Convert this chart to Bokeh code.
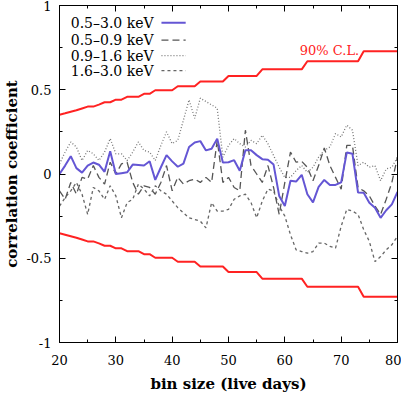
from bokeh.plotting import figure
from bokeh.models import Range1d, FixedTicker, LinearAxis
from bokeh.core.properties import value
from bokeh.embed import file_html
from bokeh.resources import INLINE

# ---------------- data ----------------
bin_size = list(range(20, 81))

corr_05_30 = [0.00, 0.05, 0.106, 0.035, 0.008, 0.05, 0.068, 0.055, 0.013, 0.135,
              0.0, 0.005, 0.01, 0.056, 0.053, 0.05, 0.076, -0.035, 0.04, 0.112,
              0.075, 0.043, 0.062, 0.16, 0.187, 0.195, 0.14, 0.15, 0.21, 0.068,
              0.07, 0.082, 0.019, 0.141, 0.141, 0.112, 0.088, 0.085, 0.056, -0.13,
              -0.19, -0.04, -0.045, -0.005, -0.12, -0.168, -0.076, -0.035, -0.065, -0.065,
              -0.05, 0.128, 0.12, -0.11, -0.112, -0.17, -0.2, -0.26, -0.215, -0.18, -0.106]

corr_05_09 = [-0.1, -0.15, -0.05, -0.12, -0.02, -0.03, 0.05, -0.02, -0.06, 0.07,
              0.0, 0.06, 0.07, -0.05, -0.12, -0.07, -0.08, -0.12, -0.05, 0.05,
              -0.1, -0.02, -0.06, -0.04, -0.03, -0.05, -0.02, -0.05, 0.2, -0.05,
              -0.02, -0.08, -0.1, 0.26, 0.05, 0.0, -0.05, 0.05, -0.08, -0.24,
              -0.05, 0.13, 0.07, 0.075, 0.04, -0.04, 0.05, 0.155, 0.05, -0.02,
              -0.09, 0.17, 0.17, -0.08, -0.1, -0.13, -0.19, -0.24, -0.15, -0.05, 0.1]

corr_09_16 = [0.06, 0.13, 0.19, 0.16, 0.08, 0.14, 0.12, 0.08, 0.13, 0.21,
              0.12, 0.12, 0.08, 0.13, 0.19, 0.14, 0.13, 0.08, 0.17, 0.25,
              0.18, 0.2, 0.32, 0.44, 0.33, 0.45, 0.43, 0.41, 0.39, 0.1,
              0.17, 0.21, 0.18, 0.16, 0.2, 0.18, 0.23, 0.18, 0.11, 0.04,
              -0.02, -0.02, 0.02, 0.05, 0.01, 0.04, 0.1, 0.14, 0.16, 0.24,
              0.22, 0.29, 0.26, 0.05, 0.07, 0.04, 0.05, -0.04, 0.03, 0.04, 0.1]

corr_16_30 = [-0.19, -0.14, -0.1, -0.05, -0.12, -0.24, -0.08, -0.1, -0.15, -0.07,
              -0.13, -0.26, -0.17, -0.15, -0.06, -0.09, -0.13, -0.07, -0.1, -0.12,
              -0.16, -0.2, -0.23, -0.26, -0.27, -0.28, -0.32, -0.17, -0.22, -0.22,
              -0.21, -0.15, -0.13, -0.12, -0.17, -0.26, -0.16, -0.09, -0.1, -0.19,
              -0.25, -0.36, -0.45, -0.46, -0.47, -0.46, -0.41, -0.41, -0.43, -0.44,
              -0.31, -0.21, -0.22, -0.24, -0.33, -0.4, -0.52, -0.49, -0.45, -0.42, -0.37]

cl90_upper = [0.352, 0.360, 0.369, 0.378, 0.389, 0.400, 0.400, 0.412, 0.426, 0.426,
              0.441, 0.441, 0.458, 0.458, 0.458, 0.476, 0.476, 0.497, 0.497, 0.497,
              0.497, 0.521, 0.521, 0.521, 0.521,
              0.549, 0.549, 0.549, 0.549, 0.549,
              0.582, 0.582, 0.582, 0.582, 0.582, 0.582,
              0.621, 0.621, 0.621, 0.621, 0.621, 0.621, 0.621, 0.621,
              0.669, 0.669, 0.669, 0.669, 0.669, 0.669, 0.669, 0.669, 0.669, 0.669,
              0.729, 0.729, 0.729, 0.729, 0.729, 0.729, 0.729]
cl90_lower = [-v for v in cl90_upper]

series_labels = ["0.5\u20133.0 keV", "0.5\u20130.9 keV", "0.9\u20131.6 keV", "1.6\u20133.0 keV"]
cl_label = "90% C.L."

x_ticks = [20, 30, 40, 50, 60, 70, 80]
x_minor = [25, 35, 45, 55, 65, 75]
x_tick_labels = ["20", "30", "40", "50", "60", "70", "80"]
y_ticks = [-1, -0.5, 0, 0.5, 1]
y_minor = [-0.75, -0.25, 0.25, 0.75]
y_tick_labels = ["-1", "-0.5", "0", "0.5", "1"]

x_title = "bin size (live days)"
y_title = "correlation coefficient"

# ---------------- styles ----------------
FONT = "DejaVu Serif"
BLUE = "#6456d4"
RED = "#ff2222"
styles = [
    dict(line_color=BLUE, line_width=2.0, line_dash="solid"),
    dict(line_color="#555555", line_width=1.3, line_dash="7 4"),
    dict(line_color="#777777", line_width=1.3, line_dash="1 2"),
    dict(line_color="#666666", line_width=1.3, line_dash="3 3"),
]

p = figure(frame_width=338, frame_height=337, output_backend="svg", toolbar_location=None,
           x_range=Range1d(20, 80), y_range=Range1d(-1, 1),
           min_border_left=53, min_border_right=4, min_border_top=5, min_border_bottom=40)
p.xgrid.visible = False
p.ygrid.visible = False
p.outline_line_color = "black"
p.outline_line_width = 1
p.outline_line_alpha = 1
p.background_fill_color = "white"
p.border_fill_color = "white"

def style_axis(ax, ticks, minor, labels, show_labels=True):
    ax.ticker = FixedTicker(ticks=ticks, minor_ticks=minor)
    ax.major_tick_in = 6
    ax.major_tick_out = 0
    ax.minor_tick_in = 3
    ax.minor_tick_out = 0
    ax.axis_line_color = "black"
    ax.major_tick_line_color = "black"
    ax.minor_tick_line_color = "black"
    ax.major_label_text_font = FONT
    ax.major_label_text_font_size = "13px"
    ax.major_label_text_color = "black"
    if show_labels:
        ax.major_label_overrides = {t: l for t, l in zip(ticks, labels)}
        ax.major_label_standoff = 8
    else:
        ax.major_label_overrides = {t: "" for t in ticks}
        ax.major_label_standoff = 0

style_axis(p.xaxis[0], x_ticks, x_minor, x_tick_labels)
style_axis(p.yaxis[0], y_ticks, y_minor, y_tick_labels)
p.xaxis[0].major_label_standoff = 12
p.xaxis[0].axis_label = x_title
p.yaxis[0].axis_label = y_title
for ax in (p.xaxis[0], p.yaxis[0]):
    ax.axis_label_text_font = FONT
    ax.axis_label_text_font_size = "15px"
    ax.axis_label_text_font_style = "bold"
    ax.axis_label_text_color = "black"
p.xaxis[0].axis_label_standoff = 7
p.yaxis[0].axis_label_standoff = 2

top_ax = LinearAxis()
style_axis(top_ax, x_ticks, x_minor, x_tick_labels, show_labels=False)
p.add_layout(top_ax, "above")
right_ax = LinearAxis()
style_axis(right_ax, y_ticks, y_minor, y_tick_labels, show_labels=False)
p.add_layout(right_ax, "right")

# CL lines
p.line(bin_size, cl90_upper, line_color=RED, line_width=2)
p.line(bin_size, cl90_lower, line_color=RED, line_width=2)

# series (draw in reverse so blue on top)
all_series = [corr_05_30, corr_05_09, corr_09_16, corr_16_30]
for ys, st in reversed(list(zip(all_series, styles))):
    p.line(bin_size, ys, **st)

# legend (text left, sample right)
leg_text_x = 36.7
leg_line_x = [38.1, 42.4]
leg_rows = [0.897, 0.794, 0.703, 0.614]
p.text(x=[leg_text_x] * 4, y=leg_rows, text=series_labels,
       text_font=value(FONT), text_font_size=value("14px"),
       text_align="right", text_baseline="middle", text_color="black")
for yy, st in zip(leg_rows, styles):
    p.line(leg_line_x, [yy, yy], **st)

# CL label
p.text(x=[73.2], y=[0.735], text=[cl_label], text_font=value(FONT),
       text_font_size=value("13px"), text_align="right", text_baseline="middle",
       text_color=RED)

open("out.html", "w").write(file_html(p, INLINE))
